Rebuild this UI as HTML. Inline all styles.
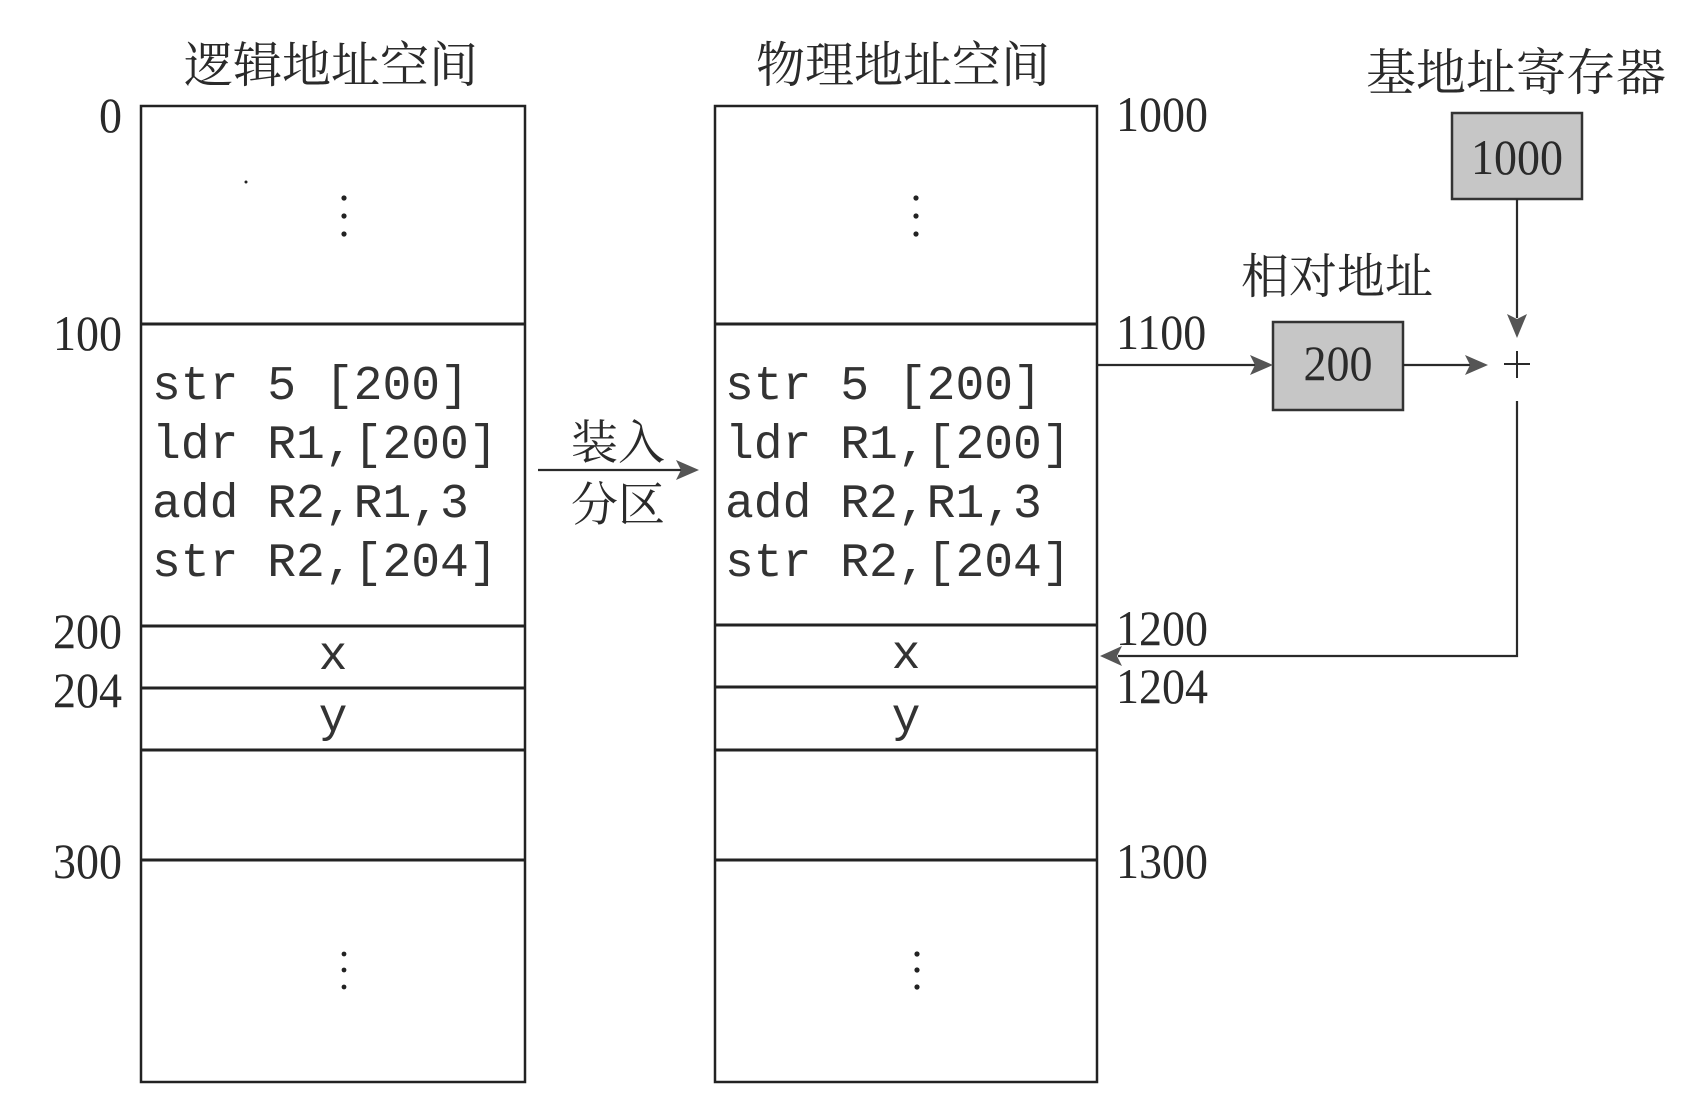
<!DOCTYPE html>
<html>
<head>
<meta charset="utf-8">
<style>
html,body{margin:0;padding:0;background:#fff;}
svg{display:block;}
.cn{font-family:"Liberation Serif","Noto Serif CJK SC","Noto Sans CJK SC",serif;fill:#2a2a2a;}
.num{font-family:"Liberation Serif",serif;font-size:50px;fill:#2a2a2a;}
.code{font-family:"Liberation Mono",monospace;font-size:48px;fill:#333;}
</style>
</head>
<body>
<svg width="1684" height="1110" viewBox="0 0 1684 1110" xmlns="http://www.w3.org/2000/svg">
<rect x="0" y="0" width="1684" height="1110" fill="#fff"/>

<!-- Titles -->
<text class="cn" x="331" y="82" font-size="49" text-anchor="middle">逻辑地址空间</text>
<text class="cn" x="903" y="82" font-size="49" text-anchor="middle">物理地址空间</text>
<text class="cn" x="1516" y="90" font-size="50" text-anchor="middle">基地址寄存器</text>
<text class="cn" x="1337" y="293" font-size="48" text-anchor="middle">相对地址</text>
<text class="cn" x="618" y="459" font-size="47" text-anchor="middle">装入</text>
<text class="cn" x="618" y="521" font-size="47" text-anchor="middle">分区</text>

<!-- Left memory box -->
<g stroke="#222" fill="none">
<rect x="141" y="106" width="384" height="976" stroke-width="2.5"/>
<line x1="141" y1="324" x2="525" y2="324" stroke-width="3"/>
<line x1="141" y1="626" x2="525" y2="626" stroke-width="3"/>
<line x1="141" y1="688" x2="525" y2="688" stroke-width="3"/>
<line x1="141" y1="750" x2="525" y2="750" stroke-width="3"/>
<line x1="141" y1="860" x2="525" y2="860" stroke-width="3"/>
</g>

<!-- Right memory box -->
<g stroke="#222" fill="none">
<rect x="715" y="106" width="382" height="976" stroke-width="2.5"/>
<line x1="715" y1="324" x2="1097" y2="324" stroke-width="3"/>
<line x1="715" y1="625" x2="1097" y2="625" stroke-width="3"/>
<line x1="715" y1="687" x2="1097" y2="687" stroke-width="3"/>
<line x1="715" y1="750" x2="1097" y2="750" stroke-width="3"/>
<line x1="715" y1="860" x2="1097" y2="860" stroke-width="3"/>
</g>

<!-- Ellipsis dots -->
<g fill="#222">
<circle cx="344" cy="198" r="2.6"/><circle cx="344" cy="216" r="2.6"/><circle cx="344" cy="234" r="2.6"/>
<circle cx="916" cy="198" r="2.6"/><circle cx="916" cy="216" r="2.6"/><circle cx="916" cy="234" r="2.6"/>
<circle cx="344" cy="954" r="2.4"/><circle cx="344" cy="970" r="2.4"/><circle cx="344" cy="987" r="2.4"/>
<circle cx="917" cy="954" r="2.6"/><circle cx="917" cy="970" r="2.6"/><circle cx="917" cy="987" r="2.6"/>
<circle cx="246" cy="182" r="1.5"/>
</g>

<!-- Code text -->
<text class="code" x="152" y="399" xml:space="preserve">str 5 [200]</text>
<text class="code" x="152" y="458" xml:space="preserve">ldr R1,[200]</text>
<text class="code" x="152" y="517" xml:space="preserve">add R2,R1,3</text>
<text class="code" x="152" y="576" xml:space="preserve">str R2,[204]</text>

<text class="code" x="725" y="399" xml:space="preserve">str 5 [200]</text>
<text class="code" x="725" y="458" xml:space="preserve">ldr R1,[200]</text>
<text class="code" x="725" y="517" xml:space="preserve">add R2,R1,3</text>
<text class="code" x="725" y="576" xml:space="preserve">str R2,[204]</text>

<text class="code" x="333" y="669" text-anchor="middle">x</text>
<text class="code" x="333" y="731" text-anchor="middle">y</text>
<text class="code" x="906" y="668" text-anchor="middle">x</text>
<text class="code" x="906" y="731" text-anchor="middle">y</text>

<!-- Left address labels -->
<text class="num" text-anchor="end" transform="translate(122,132) scale(0.92,1)">0</text>
<text class="num" text-anchor="end" transform="translate(122,350) scale(0.92,1)">100</text>
<text class="num" text-anchor="end" transform="translate(122,648) scale(0.92,1)">200</text>
<text class="num" text-anchor="end" transform="translate(122,707) scale(0.92,1)">204</text>
<text class="num" text-anchor="end" transform="translate(122,878) scale(0.92,1)">300</text>

<!-- Right address labels -->
<text class="num" transform="translate(1116,131) scale(0.92,1)">1000</text>
<text class="num" transform="translate(1116,349) scale(0.92,1)">1100</text>
<text class="num" transform="translate(1116,645) scale(0.92,1)">1200</text>
<text class="num" transform="translate(1116,703) scale(0.92,1)">1204</text>
<text class="num" transform="translate(1116,878) scale(0.92,1)">1300</text>

<!-- Gray boxes -->
<rect x="1452" y="113" width="130" height="86" fill="#c6c6c6" stroke="#333" stroke-width="2.5"/>
<text class="num" text-anchor="middle" transform="translate(1517,174) scale(0.92,1)">1000</text>
<rect x="1273" y="322" width="130" height="88" fill="#c6c6c6" stroke="#333" stroke-width="2.5"/>
<text class="num" text-anchor="middle" transform="translate(1338,380) scale(0.92,1)">200</text>

<!-- Connectors -->
<g stroke="#2a2a2a" stroke-width="2.2" fill="none">
<line x1="538" y1="470" x2="682" y2="470"/>
<line x1="1097" y1="365" x2="1256" y2="365"/>
<line x1="1403" y1="365" x2="1470" y2="365"/>
<line x1="1517" y1="199" x2="1517" y2="318"/>
<polyline points="1517,401 1517,656 1118,656"/>
<!-- plus -->
<line x1="1504" y1="364" x2="1530" y2="364" stroke-width="2"/>
<line x1="1517" y1="351" x2="1517" y2="378" stroke-width="2"/>
</g>

<!-- Arrowheads -->
<g fill="#555">
<path d="M699,470 L676,460 L681,470 L676,480 Z"/>
<path d="M1273,365 L1250,355 L1255,365 L1250,375 Z"/>
<path d="M1488,365 L1465,355 L1470,365 L1465,375 Z"/>
<path d="M1517,338 L1507,314 L1517,319 L1527,314 Z"/>
<path d="M1100,656 L1122,646 L1117,656 L1122,666 Z"/>
</g>
</svg>
</body>
</html>
